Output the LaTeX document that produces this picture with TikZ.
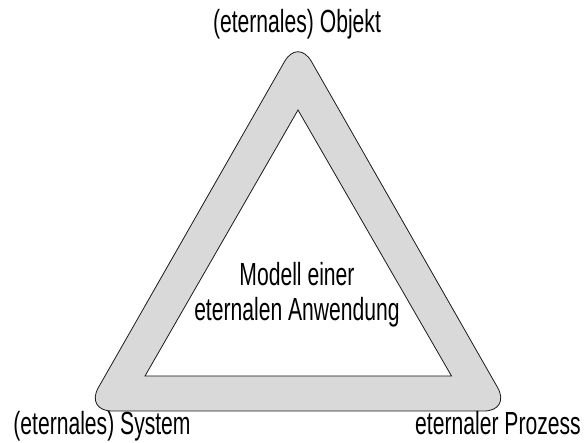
\documentclass[tikz,border=0pt]{standalone}
\usepackage{fontspec}
\setmainfont{Liberation Sans}[FakeStretch=0.66]
\usetikzlibrary{positioning}
\definecolor{BandGray}{HTML}{D9D9D9}
\definecolor{EdgeBlack}{HTML}{1A1A1A}

\begin{document}
\begin{tikzpicture}[
      x=1pt,y=-1pt,
      band/.style={draw=EdgeBlack,line width=0.8pt,fill=BandGray,even odd rule},
      cornerlabel/.style={font=\fontsize{32}{35}\selectfont,inner sep=0pt,anchor=base},
      midlabel/.style={font=\fontsize{32}{35}\selectfont,align=center,inner sep=0pt},
    ]
    \useasboundingbox (0,0) rectangle (584,443);

    % corners of the band
    \coordinate (top)    at (298,38);
    \coordinate (left)   at (85,411);
    \coordinate (right)  at (511,411);
    \coordinate (bottom) at (298,411);
    \coordinate (itop)   at (298,110);
    \coordinate (ileft)  at (145,376);
    \coordinate (iright) at (451.5,376);

    \draw[band,rounded corners=27pt] (bottom) -- (right) -- (top) -- (left) -- cycle
      [sharp corners] (ileft) -- (iright) -- (itop) -- cycle;

    \node[cornerlabel] (obj)  at (297,33)  {(eternales) Objekt};
    \node[cornerlabel] (sys)  at (102,435) {(eternales) System};
    \node[cornerlabel] (proz) at (498,435) {eternaler Prozess};
    \node[midlabel]    (model) at (297,295) {Modell einer\\eternalen Anwendung};
  \end{tikzpicture}
\end{document}
